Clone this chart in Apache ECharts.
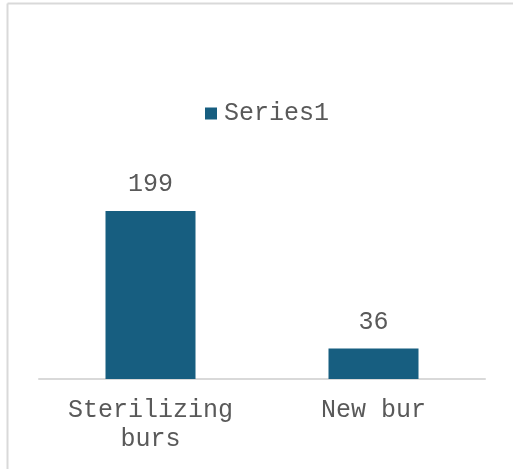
<!DOCTYPE html>
<html><head><meta charset="utf-8">
<script src="https://cdn.jsdelivr.net/npm/echarts@6/dist/echarts.min.js"></script>
<style>html,body{margin:0;padding:0;background:#fff}#c{width:513px;height:469px}</style>
</head><body><div id="c"></div>
<script>
const categories = ['Sterilizing\nburs', 'New bur'];
const seriesName = 'Series1';
const values = [199, 36];

const font = '"Liberation Mono", "Courier New", monospace';
const chart = echarts.init(document.getElementById('c'), null, {renderer: 'canvas'});
chart.setOption({
  animation: false,
  graphic: [
    {type: 'line', shape: {x1: 7.5, y1: 3.5, x2: 513, y2: 3.5}, style: {stroke: '#d9d9d9', lineWidth: 2}},
    {type: 'line', shape: {x1: 7.5, y1: 3.5, x2: 7.5, y2: 469}, style: {stroke: '#d9d9d9', lineWidth: 2}}
  ],
  legend: {
    left: 200, top: 96,
    icon: 'rect', itemWidth: 12, itemHeight: 12, itemGap: 10,
    textStyle: {fontFamily: font, fontSize: 25, color: '#595959', padding: [0,0,0,2]},
    data: [seriesName]
  },
  grid: {left: 39, right: 28, top: 168, bottom: 90, containLabel: false},
  xAxis: {
    type: 'category', data: categories,
    axisLine: {lineStyle: {color: '#d9d9d9', width: 2}},
    axisTick: {show: false},
    axisLabel: {interval: 0, fontFamily: font, fontSize: 25, color: '#595959', margin: 17, lineHeight: 29}
  },
  yAxis: {type: 'value', min: 0, max: 250, show: false, splitLine: {show: false}},
  series: [{
    name: seriesName, type: 'bar', data: values, barWidth: 90,
    itemStyle: {color: '#175E80'},
    label: {show: true, position: 'top', distance: 14, fontFamily: font, fontSize: 25, color: '#595959'}
  }]
});
</script></body></html>
